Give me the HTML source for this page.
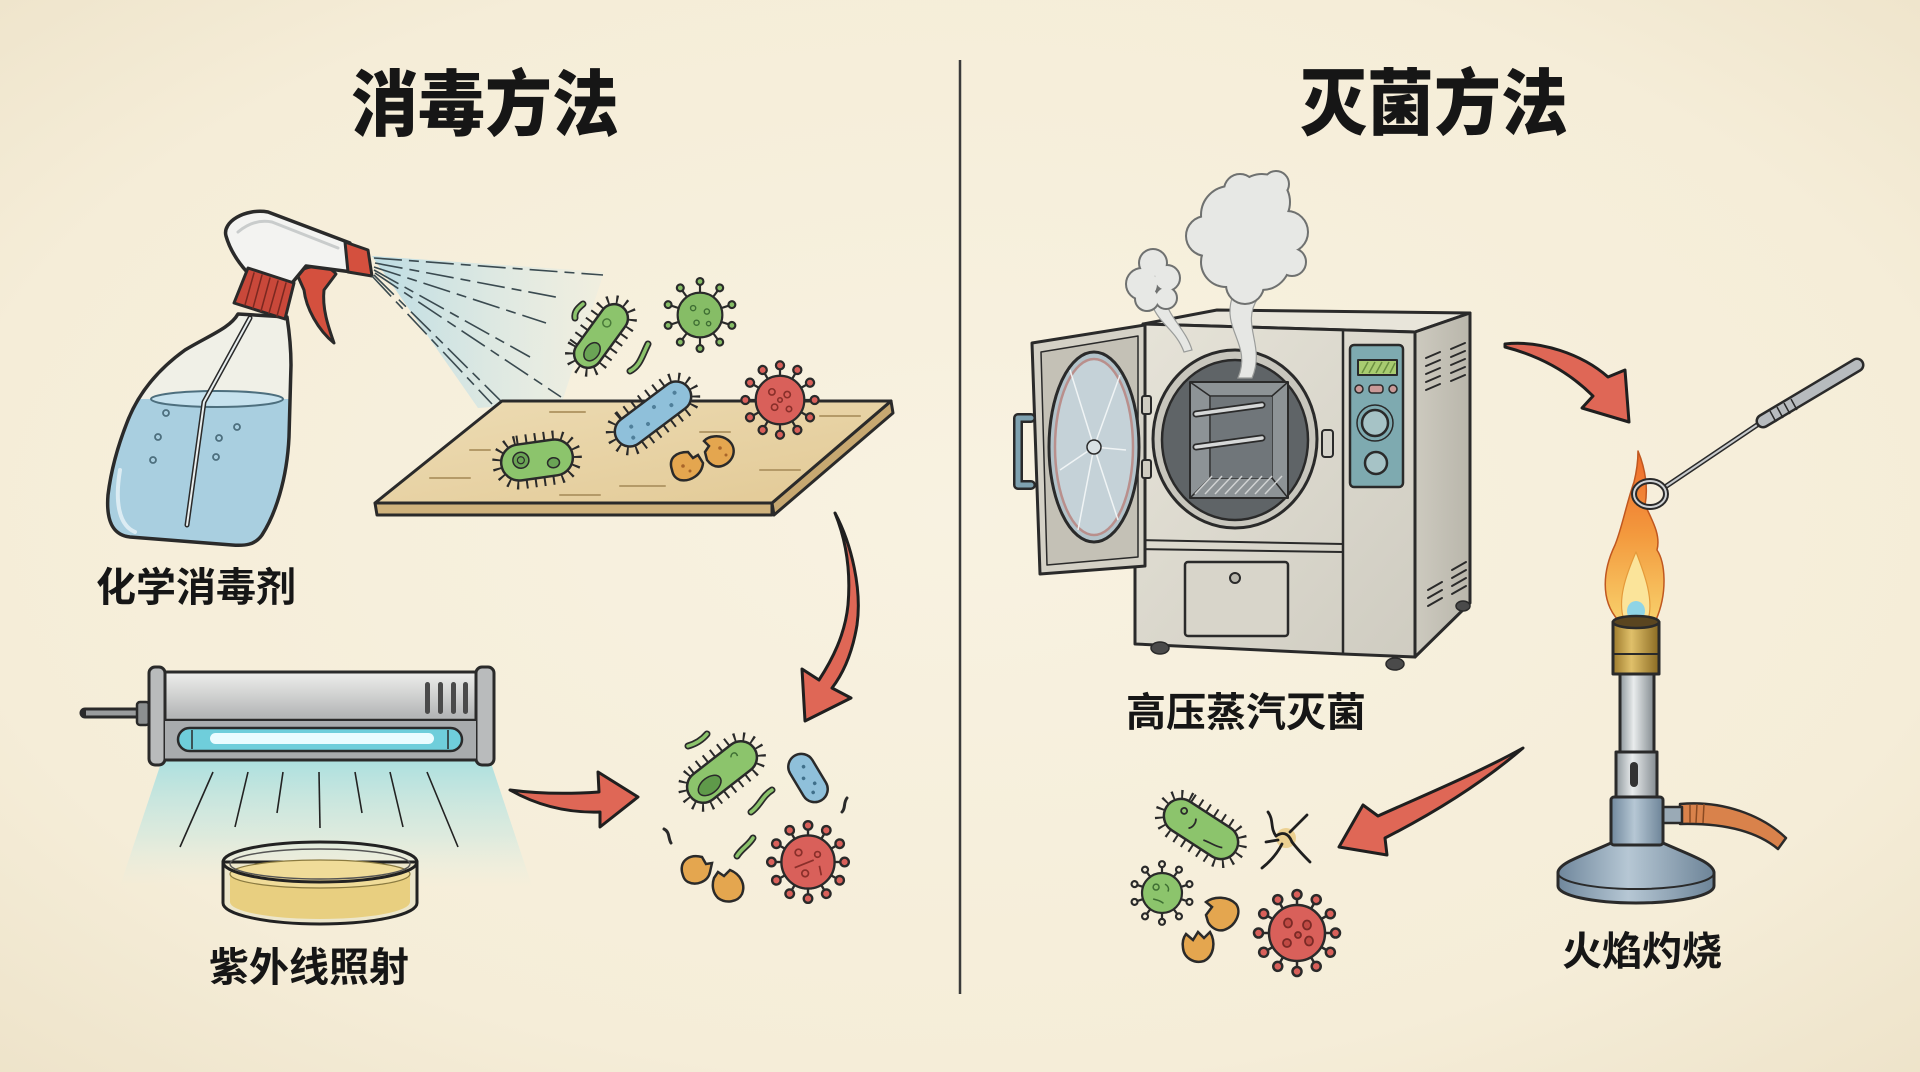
<!DOCTYPE html>
<html><head><meta charset="utf-8"><style>
html,body{margin:0;padding:0;background:#f5eedb;}
svg{display:block}
text{font-family:"Liberation Sans","Noto Sans CJK SC",sans-serif;fill:#161616;}
</style></head><body>
<svg width="1920" height="1072" viewBox="0 0 1920 1072" xmlns="http://www.w3.org/2000/svg" xmlns:xlink="http://www.w3.org/1999/xlink">
<defs>
<radialGradient id="bg" cx="50%" cy="48%" r="75%">
<stop offset="0" stop-color="#f8f2e1"/><stop offset="0.7" stop-color="#f5edd8"/><stop offset="1" stop-color="#ede2c8"/>
</radialGradient>
<linearGradient id="metal" x1="0" y1="0" x2="0" y2="1">
<stop offset="0" stop-color="#eeeeec"/><stop offset="0.25" stop-color="#d2d3d2"/><stop offset="0.5" stop-color="#b4b6b7"/><stop offset="1" stop-color="#c9cacb"/>
</linearGradient>
<linearGradient id="uvcone" x1="0" y1="0" x2="0" y2="1">
<stop offset="0" stop-color="#9fdde0" stop-opacity="0.85"/><stop offset="0.6" stop-color="#bfe6e2" stop-opacity="0.45"/><stop offset="1" stop-color="#d9efe6" stop-opacity="0"/>
</linearGradient>
<linearGradient id="sprayg" x1="0" y1="0" x2="1" y2="0">
<stop offset="0" stop-color="#a9d6e6" stop-opacity="0.75"/><stop offset="1" stop-color="#cfe8ee" stop-opacity="0.15"/>
</linearGradient>
<linearGradient id="board" x1="0" y1="0" x2="1" y2="1">
<stop offset="0" stop-color="#eddcb4"/><stop offset="1" stop-color="#e2c995"/>
</linearGradient>
<linearGradient id="acfront" x1="0" y1="0" x2="1" y2="1">
<stop offset="0" stop-color="#e6e3d8"/><stop offset="1" stop-color="#cfccc1"/>
</linearGradient>
<linearGradient id="acside" x1="0" y1="0" x2="1" y2="0">
<stop offset="0" stop-color="#cdcabf"/><stop offset="1" stop-color="#b9b6ab"/>
</linearGradient>
<linearGradient id="brass" x1="0" y1="0" x2="1" y2="0">
<stop offset="0" stop-color="#9c7a2c"/><stop offset="0.4" stop-color="#e0c06a"/><stop offset="1" stop-color="#8a6a22"/>
</linearGradient>
<linearGradient id="steel" x1="0" y1="0" x2="1" y2="0">
<stop offset="0" stop-color="#8e979c"/><stop offset="0.4" stop-color="#e9eced"/><stop offset="1" stop-color="#838b90"/>
</linearGradient>
<linearGradient id="bluesteel" x1="0" y1="0" x2="1" y2="0">
<stop offset="0" stop-color="#6f879c"/><stop offset="0.45" stop-color="#b6c7d4"/><stop offset="1" stop-color="#6d8498"/>
</linearGradient>
<linearGradient id="flame" x1="0" y1="0" x2="0" y2="1">
<stop offset="0" stop-color="#ee6a2a"/><stop offset="0.5" stop-color="#f39a3e"/><stop offset="1" stop-color="#f8cf6a"/>
</linearGradient>
<clipPath id="bottleclip">
<path d="M238 314 L287 317 C289 330 291 345 291 365 L289 437 C287 480 275 515 262 535 C255 545 245 546 232 545 L130 537 C112 535 106 520 108 495 C111 470 118 445 128 420 C140 390 160 368 185 350 C210 335 230 328 238 314 Z"/>
</clipPath>
<g id="sp12">
<g><line x1="0" y1="-24" x2="0" y2="-35"/><circle cy="-38.5" r="4.5"/></g>
<g transform="rotate(30)"><line x1="0" y1="-24" x2="0" y2="-35"/><circle cy="-38.5" r="4.5"/></g>
<g transform="rotate(60)"><line x1="0" y1="-24" x2="0" y2="-35"/><circle cy="-38.5" r="4.5"/></g>
<g transform="rotate(90)"><line x1="0" y1="-24" x2="0" y2="-35"/><circle cy="-38.5" r="4.5"/></g>
<g transform="rotate(120)"><line x1="0" y1="-24" x2="0" y2="-35"/><circle cy="-38.5" r="4.5"/></g>
<g transform="rotate(150)"><line x1="0" y1="-24" x2="0" y2="-35"/><circle cy="-38.5" r="4.5"/></g>
<g transform="rotate(180)"><line x1="0" y1="-24" x2="0" y2="-35"/><circle cy="-38.5" r="4.5"/></g>
<g transform="rotate(210)"><line x1="0" y1="-24" x2="0" y2="-35"/><circle cy="-38.5" r="4.5"/></g>
<g transform="rotate(240)"><line x1="0" y1="-24" x2="0" y2="-35"/><circle cy="-38.5" r="4.5"/></g>
<g transform="rotate(270)"><line x1="0" y1="-24" x2="0" y2="-35"/><circle cy="-38.5" r="4.5"/></g>
<g transform="rotate(300)"><line x1="0" y1="-24" x2="0" y2="-35"/><circle cy="-38.5" r="4.5"/></g>
<g transform="rotate(330)"><line x1="0" y1="-24" x2="0" y2="-35"/><circle cy="-38.5" r="4.5"/></g>
</g>
<g id="sp10">
<g><line x1="0" y1="-24" x2="0" y2="-36"/><circle cy="-39" r="4"/></g>
<g transform="rotate(36)"><line x1="0" y1="-24" x2="0" y2="-36"/><circle cy="-39" r="4"/></g>
<g transform="rotate(72)"><line x1="0" y1="-24" x2="0" y2="-36"/><circle cy="-39" r="4"/></g>
<g transform="rotate(108)"><line x1="0" y1="-24" x2="0" y2="-36"/><circle cy="-39" r="4"/></g>
<g transform="rotate(144)"><line x1="0" y1="-24" x2="0" y2="-36"/><circle cy="-39" r="4"/></g>
<g transform="rotate(180)"><line x1="0" y1="-24" x2="0" y2="-36"/><circle cy="-39" r="4"/></g>
<g transform="rotate(216)"><line x1="0" y1="-24" x2="0" y2="-36"/><circle cy="-39" r="4"/></g>
<g transform="rotate(252)"><line x1="0" y1="-24" x2="0" y2="-36"/><circle cy="-39" r="4"/></g>
<g transform="rotate(288)"><line x1="0" y1="-24" x2="0" y2="-36"/><circle cy="-39" r="4"/></g>
<g transform="rotate(324)"><line x1="0" y1="-24" x2="0" y2="-36"/><circle cy="-39" r="4"/></g>
</g>
<g id="cloud1">
<circle cx="1230" cy="215" r="28"/><circle cx="1262" cy="202" r="27"/><circle cx="1287" cy="232" r="20"/>
<circle cx="1262" cy="262" r="27"/><circle cx="1226" cy="262" r="24"/><circle cx="1206" cy="236" r="19"/>
<circle cx="1240" cy="190" r="15"/><circle cx="1276" cy="184" r="12"/><circle cx="1292" cy="262" r="13"/>
<circle cx="1245" cy="285" r="18"/>
</g>
<g id="cloud2">
<circle cx="1142" cy="284" r="15"/><circle cx="1153" cy="263" r="13"/><circle cx="1167" cy="278" r="12"/>
<circle cx="1147" cy="299" r="11"/><circle cx="1166" cy="298" r="10"/>
</g>
</defs>

<rect width="1920" height="1072" fill="url(#bg)"/>

<!-- Titles -->
<g transform="translate(485,130) scale(0.93,1)"><text x="0" y="0" font-size="72" font-weight="900" text-anchor="middle">消毒方法</text></g>
<g transform="translate(1434,129) scale(0.93,1)"><text x="0" y="0" font-size="72" font-weight="900" text-anchor="middle">灭菌方法</text></g>

<!-- Divider -->
<line x1="960" y1="60" x2="960" y2="994" stroke="#3a3a3a" stroke-width="2.5"/>

<!-- ============ SPRAY BOTTLE ============ -->
<g stroke-linejoin="round" stroke-linecap="round">
<path d="M238 314 L287 317 C289 330 291 345 291 365 L289 437 C287 480 275 515 262 535 C255 545 245 546 232 545 L130 537 C112 535 106 520 108 495 C111 470 118 445 128 420 C140 390 160 368 185 350 C210 335 230 328 238 314 Z" fill="#eef1ec" fill-opacity="0.7"/>
<g clip-path="url(#bottleclip)">
<rect x="90" y="399" width="220" height="160" fill="#a9cfe0"/>
<ellipse cx="217" cy="399" rx="66" ry="8" fill="#c6e2ee" stroke="#4d6f7e" stroke-width="2"/>
<path d="M120 470 C115 500 118 525 135 532" fill="none" stroke="#ffffff" stroke-width="4" stroke-opacity="0.6"/>
</g>
<path d="M250 318 L204 402 L187 525" fill="none" stroke="#2a2a2a" stroke-width="5"/>
<path d="M250 318 L204 402 L187 525" fill="none" stroke="#e8eeee" stroke-width="2"/>
<g fill="none" stroke="#4d6f7e" stroke-width="1.8">
<circle cx="166" cy="413" r="3"/><circle cx="158" cy="437" r="3"/><circle cx="153" cy="460" r="3"/>
<circle cx="219" cy="438" r="3"/><circle cx="216" cy="457" r="3"/><circle cx="237" cy="427" r="3"/>
</g>
<path d="M238 314 L287 317 C289 330 291 345 291 365 L289 437 C287 480 275 515 262 535 C255 545 245 546 232 545 L130 537 C112 535 106 520 108 495 C111 470 118 445 128 420 C140 390 160 368 185 350 C210 335 230 328 238 314 Z" fill="none" stroke="#2a2a2a" stroke-width="3.5"/>
<path d="M296 272 C312 264 328 264 336 274 L324 290 C322 308 328 326 334 343 C318 330 306 308 304 290 Z" fill="#d4503e" stroke="#2a2a2a" stroke-width="3"/>
<path d="M226 236 C222 222 245 208 268 212 L350 243 L352 272 L306 266 L292 283 L247 272 C238 262 230 250 226 236 Z" fill="#f3f3f1" stroke="#2a2a2a" stroke-width="3.5"/>
<path d="M238 232 C250 222 262 220 272 222 L338 248" fill="none" stroke="#c9cccc" stroke-width="3"/>
<path d="M345 242 L368 250 L372 276 L348 272 Z" fill="#d4503e" stroke="#2a2a2a" stroke-width="3"/>
<path d="M248 268 L294 283 L285 319 L234 303 Z" fill="#c9483a" stroke="#2a2a2a" stroke-width="3"/>
<g stroke="#7a2820" stroke-width="1.5">
<line x1="254" y1="273" x2="245" y2="305"/><line x1="262" y1="275" x2="253" y2="308"/><line x1="270" y1="278" x2="261" y2="311"/><line x1="278" y1="281" x2="269" y2="313"/><line x1="286" y1="283" x2="277" y2="316"/>
</g>
</g>

<!-- spray -->
<path d="M372 256 L604 272 L562 402 L478 408 Z" fill="url(#sprayg)"/>
<g stroke="#3a4a50" stroke-width="1.6" fill="none" stroke-dasharray="28 7 10 7">
<line x1="374" y1="258" x2="603" y2="275"/>
<line x1="375" y1="263" x2="561" y2="298"/>
<line x1="374" y1="267" x2="546" y2="323"/>
<line x1="374" y1="270" x2="530" y2="357"/>
<line x1="375" y1="273" x2="561" y2="397"/>
<line x1="374" y1="275" x2="520" y2="420"/>
<line x1="372" y1="276" x2="492" y2="404"/>
</g>

<!-- board -->
<g stroke="#2a2a2a" stroke-width="3" stroke-linejoin="round">
<path d="M375 503 L772 503 L772 515 L377 515 Z" fill="#cfb27c"/>
<path d="M891 401 L893 413 L774 515 L772 503 Z" fill="#c7a871"/>
<path d="M502 401 L891 401 L772 503 L375 503 Z" fill="url(#board)"/>
</g>
<g stroke="#b49a68" stroke-width="2" stroke-linecap="round">
<line x1="550" y1="412" x2="585" y2="412"/><line x1="820" y1="416" x2="860" y2="416"/><line x1="470" y1="450" x2="490" y2="450"/>
<line x1="430" y1="478" x2="470" y2="478"/><line x1="620" y1="486" x2="665" y2="486"/><line x1="760" y1="470" x2="800" y2="470"/>
<line x1="560" y1="495" x2="600" y2="495"/><line x1="700" y1="432" x2="730" y2="432"/>
</g>

<!-- microbes top-left -->
<g transform="translate(601,336) rotate(-54)">
<rect x="-40" y="-18" width="80" height="36" rx="18" fill="none" stroke="#2a2a2a" stroke-width="10" stroke-dasharray="2 7"/>
<rect x="-36" y="-14" width="72" height="28" rx="14" fill="#8cc46c" stroke="#2a2a2a" stroke-width="2.5"/>
<ellipse cx="-18" cy="2" rx="10" ry="7" fill="#6aa455" stroke="#2a2a2a" stroke-width="1.5"/>
<circle cx="14" cy="-3" r="4" fill="none" stroke="#4a7a3a" stroke-width="1.5"/>
</g>
<g transform="translate(700,315) scale(0.86)">
<use xlink:href="#sp10" fill="#86bd66" stroke="#2a2a2a" stroke-width="2.5"/>
<circle r="26" fill="#86bd66" stroke="#2a2a2a" stroke-width="2.5"/>
<g fill="none" stroke="#3e6e33" stroke-width="1.6"><circle cx="-8" cy="-8" r="3"/><circle cx="8" cy="-4" r="3"/><circle cx="-4" cy="9" r="3"/><circle cx="10" cy="10" r="2.5"/></g>
</g>
<g fill="none" stroke-linecap="round">
<path d="M575 318 C574 312 578 308 583 304" stroke="#2a2a2a" stroke-width="7"/><path d="M575 318 C574 312 578 308 583 304" stroke="#8cc46c" stroke-width="3.5"/>
<path d="M630 371 C640 366 642 356 648 344" stroke="#2a2a2a" stroke-width="7"/><path d="M630 371 C640 366 642 356 648 344" stroke="#8cc46c" stroke-width="3.5"/>
</g>
<g transform="translate(653,414) rotate(-37)">
<rect x="-48" y="-19" width="96" height="38" rx="19" fill="none" stroke="#2a2a2a" stroke-width="10" stroke-dasharray="2 7"/>
<rect x="-44" y="-15" width="88" height="30" rx="15" fill="#8fc0da" stroke="#2a2a2a" stroke-width="2.5"/>
<g fill="#4f7f9a"><circle cx="-25" cy="-3" r="2"/><circle cx="-10" cy="5" r="2"/><circle cx="5" cy="-5" r="2"/><circle cx="20" cy="4" r="2"/><circle cx="30" cy="-4" r="2"/><circle cx="-30" cy="7" r="2"/></g>
</g>
<g transform="translate(780,400) scale(0.9)">
<use xlink:href="#sp12" fill="#d9605a" stroke="#2a2a2a" stroke-width="2.5"/>
<circle r="27" fill="#d9605a" stroke="#2a2a2a" stroke-width="2.5"/>
<g fill="none" stroke="#8a2f2a" stroke-width="1.8"><circle cx="-9" cy="-9" r="3.5"/><circle cx="8" cy="-6" r="3.5"/><circle cx="-6" cy="8" r="3.5"/><circle cx="10" cy="10" r="3"/><circle cx="0" cy="0" r="2.5"/></g>
</g>
<g transform="translate(537,460) rotate(-8)">
<rect x="-40" y="-22" width="80" height="44" rx="22" fill="none" stroke="#2a2a2a" stroke-width="10" stroke-dasharray="2 7"/>
<rect x="-36" y="-18" width="72" height="36" rx="18" fill="#8cc46c" stroke="#2a2a2a" stroke-width="2.5"/>
<circle cx="-16" cy="-2" r="8" fill="#6aa455" stroke="#2a2a2a" stroke-width="1.5"/>
<circle cx="-16" cy="-2" r="3.5" fill="none" stroke="#2a2a2a" stroke-width="1.2"/>
<ellipse cx="16" cy="5" rx="6" ry="5" fill="#6aa455" stroke="#2a2a2a" stroke-width="1.5"/>
</g>
<g stroke="#2a2a2a" stroke-width="2.5">
<path d="M672 470 C668 458 676 452 688 452 L693 458 L698 455 L703 463 C702 475 690 482 680 480 C675 478 673 475 672 470 Z" fill="#e4a64f"/>
<path d="M705 452 L709 446 L704 441 C708 436 720 434 728 440 C738 448 734 462 722 466 C715 468 710 464 707 460 Z" fill="#e4a64f"/>
<g fill="#a8652a" stroke="none"><circle cx="683" cy="466" r="1.8"/><circle cx="690" cy="471" r="1.5"/><circle cx="720" cy="448" r="1.8"/><circle cx="726" cy="455" r="1.5"/></g>
</g>

<!-- arrow board -> lower cluster -->
<path d="M835 513 C852 545 862 590 857 625 C852 655 842 675 832 688 L851 698 L805 721 L802 669 L819 680 C832 660 845 635 848 605 C851 570 846 540 835 513 Z" fill="#df6756" stroke="#1f1f1f" stroke-width="3" stroke-linejoin="round"/>

<text x="196" y="601" font-size="40" font-weight="700" text-anchor="middle">化学消毒剂</text>

<!-- ============ UV LAMP ============ -->
<path d="M162 760 L490 760 L532 886 L120 886 Z" fill="url(#uvcone)"/>
<path d="M85 713 L140 713" stroke="#2a2a2a" stroke-width="11" stroke-linecap="round"/>
<path d="M86 713 L140 713" stroke="#9a9c9d" stroke-width="5"/>
<rect x="137" y="702" width="12" height="23" rx="3" fill="#8c8f90" stroke="#2a2a2a" stroke-width="2.5"/>
<rect x="155" y="672" width="330" height="88" fill="url(#metal)" stroke="#2a2a2a" stroke-width="3"/>
<rect x="149" y="667" width="16" height="98" rx="6" fill="#b9bbbc" stroke="#2a2a2a" stroke-width="3"/>
<rect x="476" y="667" width="18" height="98" rx="6" fill="#b9bbbc" stroke="#2a2a2a" stroke-width="3"/>
<line x1="165" y1="720" x2="476" y2="720" stroke="#2a2a2a" stroke-width="2.5"/>
<rect x="165" y="721" width="311" height="39" fill="#a8abad"/>
<line x1="165" y1="760" x2="476" y2="760" stroke="#2a2a2a" stroke-width="3"/>
<g fill="#4a4a4a"><rect x="425" y="682" width="5" height="32" rx="2.5"/><rect x="438" y="682" width="5" height="32" rx="2.5"/><rect x="451" y="682" width="5" height="32" rx="2.5"/><rect x="463" y="682" width="5" height="32" rx="2.5"/></g>
<rect x="178" y="728" width="284" height="23" rx="11.5" fill="#6fcedb" stroke="#2a2a2a" stroke-width="2.5"/>
<rect x="210" y="733" width="224" height="11" rx="5.5" fill="#eafcff"/>
<line x1="192" y1="730" x2="192" y2="749" stroke="#2a2a2a" stroke-width="1.5"/><line x1="448" y1="730" x2="448" y2="749" stroke="#2a2a2a" stroke-width="1.5"/>
<g stroke="#222" stroke-width="1.6">
<line x1="213" y1="772" x2="180" y2="847"/><line x1="248" y1="772" x2="235" y2="827"/><line x1="283" y1="772" x2="277" y2="813"/>
<line x1="319" y1="772" x2="320" y2="828"/><line x1="355" y1="772" x2="362" y2="813"/><line x1="390" y1="772" x2="403" y2="827"/><line x1="427" y1="772" x2="458" y2="847"/>
</g>
<path d="M223 862 L223 903 A97 21 0 0 0 417 903 L417 862 Z" fill="#ece6cb" stroke="#222" stroke-width="3"/>
<path d="M230 874 L230 902 A90 17 0 0 0 410 902 L410 874 Z" fill="#e8cf80"/>
<ellipse cx="320" cy="874" rx="90" ry="14" fill="#f0dc99" stroke="#8a7a40" stroke-width="1.2"/>
<ellipse cx="320" cy="862" rx="97" ry="20" fill="none" stroke="#222" stroke-width="3"/>
<ellipse cx="320" cy="864" rx="90" ry="15" fill="none" stroke="#555" stroke-width="1.4"/>
<text x="309" y="981" font-size="40" font-weight="700" text-anchor="middle">紫外线照射</text>

<!-- arrow UV -> cluster -->
<path d="M510 790 C540 794 570 794 599 792 L598 772 L638 797 L600 827 L600 812 C570 813 540 807 510 790 Z" fill="#df6756" stroke="#1f1f1f" stroke-width="3" stroke-linejoin="round"/>

<!-- lower-left cluster -->
<g transform="translate(722,772) rotate(-38)">
<rect x="-44" y="-20" width="88" height="40" rx="20" fill="none" stroke="#2a2a2a" stroke-width="10" stroke-dasharray="2 7"/>
<rect x="-40" y="-16" width="80" height="32" rx="16" fill="#8cc46c" stroke="#2a2a2a" stroke-width="2.5"/>
<ellipse cx="-18" cy="3" rx="13" ry="8" fill="#5f9a4a" stroke="#2a2a2a" stroke-width="1.5"/>
<path d="M16 -6 c3 -4 8 -2 6 3" fill="none" stroke="#3e6e33" stroke-width="1.5"/>
</g>
<g transform="translate(808,778) rotate(59)">
<rect x="-26" y="-13" width="52" height="26" rx="13" fill="#8fc0da" stroke="#2a2a2a" stroke-width="2.5"/>
<g fill="#3f6f8a"><circle cx="-12" cy="-2" r="1.8"/><circle cx="-2" cy="4" r="1.8"/><circle cx="8" cy="-3" r="1.8"/><circle cx="15" cy="3" r="1.8"/></g>
</g>
<g transform="translate(808,862) scale(0.95)">
<use xlink:href="#sp12" fill="#d9605a" stroke="#2a2a2a" stroke-width="2.5"/>
<circle r="28" fill="#d9605a" stroke="#2a2a2a" stroke-width="2.5"/>
<g fill="none" stroke="#8a2f2a" stroke-width="1.8"><circle cx="-10" cy="-10" r="3.5"/><circle cx="10" cy="-8" r="3"/><circle cx="-3" cy="12" r="3.5"/><path d="M-14 6 L6 -2"/><path d="M12 4 L14 14"/></g>
</g>
<g stroke="#2a2a2a" stroke-width="2.5">
<path d="M682 872 C680 860 690 854 702 857 L706 864 L712 863 L710 872 C708 882 696 886 688 882 C684 880 683 876 682 872 Z" fill="#e4a64f"/>
<path d="M714 878 L718 872 L724 876 L730 870 C740 874 746 884 742 894 C738 902 726 904 718 898 C712 892 712 884 714 878 Z" fill="#e4a64f"/>
</g>
<g fill="none" stroke-linecap="round">
<path d="M688 746 C695 744 702 740 707 734" stroke="#2a2a2a" stroke-width="7"/><path d="M688 746 C695 744 702 740 707 734" stroke="#8cc46c" stroke-width="3.5"/>
<path d="M751 812 C760 806 762 796 772 790" stroke="#2a2a2a" stroke-width="7"/><path d="M751 812 C760 806 762 796 772 790" stroke="#8cc46c" stroke-width="3.5"/>
<path d="M737 856 C742 848 748 846 753 838" stroke="#2a2a2a" stroke-width="7"/><path d="M737 856 C742 848 748 846 753 838" stroke="#8cc46c" stroke-width="3.5"/>
<path d="M664 829 C670 832 668 838 671 843" stroke="#2a2a2a" stroke-width="3"/>
<path d="M847 798 C843 803 846 808 842 812" stroke="#2a2a2a" stroke-width="3"/>
</g>

<!-- ============ AUTOCLAVE ============ -->
<g stroke="#2a2a2a" stroke-linejoin="round">
<path d="M1143 324 L1217 310 L1470 313 L1415 332 Z" fill="#e8e5da" stroke-width="3"/>
<path d="M1415 332 L1470 313 L1470 603 L1415 657 Z" fill="url(#acside)" stroke-width="3"/>
<path d="M1143 324 L1415 332 L1415 657 L1343 654 L1135 644 L1135 540 L1143 540 Z" fill="url(#acfront)" stroke-width="3"/>
<line x1="1343" y1="331" x2="1343" y2="654" stroke-width="2.5"/>
<path d="M1135 540 L1343 544 M1135 549 L1343 552" fill="none" stroke-width="2"/>
<rect x="1350" y="345" width="53" height="142" rx="4" fill="#7eaab0" stroke-width="2.5"/>
<rect x="1358" y="360" width="39" height="15" fill="#a8cc70" stroke-width="2"/>
<g stroke="#6b8f40" stroke-width="1.5"><line x1="1362" y1="373" x2="1368" y2="362"/><line x1="1369" y1="373" x2="1375" y2="362"/><line x1="1376" y1="373" x2="1382" y2="362"/><line x1="1383" y1="373" x2="1389" y2="362"/><line x1="1390" y1="373" x2="1395" y2="363"/></g>
<circle cx="1359" cy="389" r="4" fill="#c99a98" stroke-width="1.5"/>
<rect x="1369" y="385" width="14" height="8" rx="3" fill="#c99a98" stroke-width="1.5"/>
<circle cx="1393" cy="389" r="4" fill="#c99a98" stroke-width="1.5"/>
<circle cx="1375" cy="423" r="18" fill="none" stroke-width="1.5"/>
<circle cx="1375" cy="423" r="13" fill="#a6c3c6" stroke-width="2.5"/>
<circle cx="1376" cy="463" r="11" fill="#a6c3c6" stroke-width="2.5"/>
<g stroke-width="2" stroke-linecap="round">
<line x1="1426" y1="358" x2="1440" y2="352"/><line x1="1426" y1="366" x2="1440" y2="360"/><line x1="1426" y1="374" x2="1440" y2="368"/><line x1="1426" y1="382" x2="1440" y2="376"/><line x1="1426" y1="390" x2="1440" y2="384"/>
<line x1="1451" y1="349" x2="1465" y2="343"/><line x1="1451" y1="357" x2="1465" y2="351"/><line x1="1451" y1="365" x2="1465" y2="359"/><line x1="1451" y1="373" x2="1465" y2="367"/><line x1="1451" y1="381" x2="1465" y2="375"/>
<line x1="1428" y1="590" x2="1442" y2="582"/><line x1="1428" y1="598" x2="1442" y2="590"/><line x1="1428" y1="606" x2="1442" y2="598"/>
<line x1="1452" y1="570" x2="1466" y2="562"/><line x1="1452" y1="578" x2="1466" y2="570"/><line x1="1452" y1="586" x2="1466" y2="578"/><line x1="1452" y1="594" x2="1466" y2="586"/>
</g>
<ellipse cx="1235" cy="439" rx="82" ry="89" fill="#c8c6bd" stroke-width="3"/>
<ellipse cx="1235" cy="440" rx="73" ry="80" fill="#5f6467" stroke-width="2.5"/>
<rect x="1190" y="382" width="98" height="116" fill="#8d9396" stroke-width="2"/>
<path d="M1190 382 L1210 396 L1272 396 L1288 382 M1210 396 L1210 478 L1190 498 M1272 396 L1272 478 L1288 498 M1210 478 L1272 478" fill="none" stroke-width="1.5"/>
<rect x="1211" y="397" width="61" height="81" fill="#70767a" stroke="none"/>
<line x1="1196" y1="414" x2="1262" y2="405" stroke="#2a2a2a" stroke-width="7" stroke-linecap="round"/>
<line x1="1196" y1="414" x2="1262" y2="405" stroke="#d6d8d8" stroke-width="3.5" stroke-linecap="round"/>
<line x1="1196" y1="447" x2="1262" y2="438" stroke="#2a2a2a" stroke-width="7" stroke-linecap="round"/>
<line x1="1196" y1="447" x2="1262" y2="438" stroke="#d6d8d8" stroke-width="3.5" stroke-linecap="round"/>
<g stroke="#d0d2d2" stroke-width="1.5"><line x1="1195" y1="494" x2="1212" y2="476"/><line x1="1205" y1="494" x2="1222" y2="476"/><line x1="1215" y1="494" x2="1232" y2="476"/><line x1="1225" y1="494" x2="1242" y2="476"/><line x1="1235" y1="494" x2="1252" y2="476"/><line x1="1245" y1="494" x2="1262" y2="476"/><line x1="1255" y1="494" x2="1272" y2="476"/><line x1="1265" y1="494" x2="1282" y2="476"/></g>
<rect x="1322" y="430" width="11" height="27" rx="3" fill="#d5d3ca" stroke-width="2"/>
<rect x="1185" y="562" width="103" height="74" rx="3" fill="#d8d5ca" stroke-width="2.5"/>
<circle cx="1235" cy="578" r="5" fill="#b9b7ad" stroke-width="2"/>
<ellipse cx="1160" cy="648" rx="9" ry="6" fill="#4a4a4a" stroke-width="1.5"/>
<ellipse cx="1395" cy="664" rx="9" ry="6" fill="#4a4a4a" stroke-width="1.5"/>
<ellipse cx="1463" cy="606" rx="7" ry="5" fill="#4a4a4a" stroke-width="1.5"/>
<path d="M1032 343 L1145 325 L1145 566 L1040 574 Z" fill="#d4d1c6" stroke-width="3"/>
<path d="M1041 352 L1138 336 L1138 557 L1047 565 Z" fill="#c4c1b6" stroke-width="1.5"/>
<ellipse cx="1094" cy="447" rx="45" ry="95" fill="#b3c3ca" stroke-width="3"/>
<ellipse cx="1094" cy="447" rx="39" ry="88" fill="#c5d2d8" stroke="#b98f8c" stroke-width="2.5"/>
<g stroke="#f4f7f8" stroke-width="1.5" stroke-opacity="0.9"><line x1="1094" y1="447" x2="1070" y2="370"/><line x1="1094" y1="447" x2="1120" y2="375"/><line x1="1094" y1="447" x2="1060" y2="470"/><line x1="1094" y1="447" x2="1126" y2="450"/><line x1="1094" y1="447" x2="1078" y2="530"/><line x1="1094" y1="447" x2="1118" y2="520"/></g>
<circle cx="1094" cy="447" r="7" fill="#d9e1e4" stroke-width="1.5"/>
<rect x="1142" y="396" width="9" height="18" rx="2" fill="#cfccc1" stroke-width="2"/>
<rect x="1142" y="460" width="9" height="18" rx="2" fill="#cfccc1" stroke-width="2"/>
<path d="M1031 418 L1018 418 L1018 485 L1031 485" fill="none" stroke="#2a2a2a" stroke-width="10" stroke-linecap="round"/>
<path d="M1031 418 L1018 418 L1018 485 L1031 485" fill="none" stroke="#7fa2b0" stroke-width="5" stroke-linecap="round"/>
</g>
<!-- steam -->
<path d="M1232 298 C1222 330 1252 345 1238 378 L1252 378 C1266 345 1240 325 1258 298 Z" fill="#e6e7e4" stroke="#9a9c9a" stroke-width="1.2"/>
<path d="M1152 305 C1160 325 1176 330 1184 352 L1192 350 C1186 330 1170 318 1166 302 Z" fill="#e6e7e4" stroke="#9a9c9a" stroke-width="1.2"/>
<use xlink:href="#cloud1" fill="#e2e3e0" stroke="#6f7170" stroke-width="4"/>
<use xlink:href="#cloud1" fill="#e7e8e5" stroke="none"/>
<ellipse cx="1248" cy="235" rx="32" ry="34" fill="#e7e8e5"/>
<use xlink:href="#cloud2" fill="#e2e3e0" stroke="#6f7170" stroke-width="4"/>
<use xlink:href="#cloud2" fill="#e7e8e5" stroke="none"/>

<text x="1246" y="726" font-size="40" font-weight="700" text-anchor="middle">高压蒸汽灭菌</text>

<!-- arrow autoclave -> burner -->
<path d="M1505 344 C1540 340 1582 354 1608 377 L1625 370 L1629 422 L1582 408 L1593 396 C1570 373 1540 356 1505 347 Z" fill="#df6756" stroke="#1f1f1f" stroke-width="3" stroke-linejoin="round"/>

<!-- ============ BUNSEN ============ -->
<g stroke="#2a2a2a" stroke-linejoin="round">
<path d="M1680 804 C1722 800 1762 815 1786 838 L1778 849 C1755 830 1720 823 1680 824 Z" fill="#d9824b" stroke-width="2.5"/>
<g stroke="#8a4a22" stroke-width="1.5"><line x1="1690" y1="805" x2="1690" y2="823"/><line x1="1697" y1="804" x2="1696" y2="823"/><line x1="1704" y1="804" x2="1703" y2="823"/></g>
<rect x="1660" y="807" width="22" height="16" fill="#9aaab6" stroke-width="2.5"/>
<path d="M1611 843 L1663 843 C1690 855 1712 862 1714 872 L1714 886 A78 17 0 0 1 1558 886 L1558 872 C1560 862 1585 855 1611 843 Z" fill="url(#bluesteel)" stroke-width="3"/>
<path d="M1558 873 A78 16 0 0 0 1714 873" fill="none" stroke-width="2"/>
<rect x="1611" y="797" width="52" height="48" rx="3" fill="url(#bluesteel)" stroke-width="3"/>
<rect x="1616" y="752" width="41" height="45" fill="url(#steel)" stroke-width="3"/>
<rect x="1630" y="762" width="8" height="25" rx="4" fill="#333" stroke="none"/>
<rect x="1620" y="674" width="34" height="78" fill="url(#steel)" stroke-width="3"/>
<path d="M1618 620 C1600 600 1603 570 1615 545 C1622 528 1626 505 1634 482 C1637 470 1638 460 1638 451 C1646 470 1648 490 1645 505 C1652 520 1661 535 1657 550 C1665 562 1668 592 1656 620 Z" fill="url(#flame)" stroke="#c0571f" stroke-width="1.5"/>
<path d="M1624 620 C1617 600 1626 575 1636 552 C1645 575 1654 600 1648 620 Z" fill="#fbe49a" stroke="#e59a3a" stroke-width="1.2"/>
<ellipse cx="1636" cy="611" rx="9" ry="10" fill="#8fd4e6" stroke="none"/>
<rect x="1613" y="622" width="46" height="52" fill="url(#brass)" stroke-width="3"/>
<line x1="1613" y1="654" x2="1659" y2="654" stroke-width="2"/>
<ellipse cx="1636" cy="622" rx="23" ry="6" fill="#5a4520" stroke-width="2.5"/>
</g>
<line x1="1763" y1="421" x2="1665" y2="487" stroke="#2a2a2a" stroke-width="5" stroke-linecap="round"/>
<line x1="1763" y1="421" x2="1665" y2="487" stroke="#c8cbcd" stroke-width="2" stroke-linecap="round"/>
<ellipse cx="1650" cy="494" rx="16" ry="13" fill="none" stroke="#2a2a2a" stroke-width="6"/>
<ellipse cx="1650" cy="494" rx="16" ry="13" fill="none" stroke="#d0d3d5" stroke-width="2"/>
<line x1="1857" y1="365" x2="1763" y2="421" stroke="#2a2a2a" stroke-width="15" stroke-linecap="round"/>
<line x1="1857" y1="365" x2="1763" y2="421" stroke="#b7bbbe" stroke-width="10" stroke-linecap="round"/>
<g stroke="#2a2a2a" stroke-width="1.5"><line x1="1770" y1="411" x2="1776" y2="422"/><line x1="1777" y1="407" x2="1783" y2="418"/><line x1="1784" y1="403" x2="1790" y2="414"/><line x1="1791" y1="399" x2="1797" y2="410"/></g>

<text x="1642" y="965" font-size="40" font-weight="700" text-anchor="middle">火焰灼烧</text>

<!-- arrow burner -> right cluster -->
<path d="M1523 748 C1480 772 1420 797 1378 816 L1363 805 L1339 847 L1387 855 L1385 838 C1430 815 1480 785 1523 748 Z" fill="#df6756" stroke="#1f1f1f" stroke-width="3" stroke-linejoin="round"/>

<!-- right cluster -->
<g transform="translate(1201,829) rotate(33)">
<rect x="-45" y="-21" width="90" height="42" rx="21" fill="none" stroke="#2a2a2a" stroke-width="10" stroke-dasharray="2 7"/>
<rect x="-41" y="-17" width="82" height="34" rx="17" fill="#8cc46c" stroke="#2a2a2a" stroke-width="2.5"/>
<g fill="none" stroke="#2a2a2a" stroke-width="1.8"><circle cx="-24" cy="-6" r="3"/><path d="M-10 -6 c3 4 2 10 -1 12"/><path d="M8 8 c8 -2 14 -1 20 -4"/></g>
</g>
<circle cx="1286" cy="838" r="10" fill="#e8c77a" opacity="0.75"/>
<g fill="none" stroke="#1f1f1f" stroke-width="2.8" stroke-linecap="round">
<path d="M1276 836 C1270 828 1274 820 1268 812"/><path d="M1290 832 C1296 826 1300 822 1307 815"/><path d="M1282 844 C1278 852 1272 860 1262 868"/><path d="M1292 842 C1298 850 1304 856 1310 862"/><path d="M1276 836 C1282 832 1288 832 1292 842"/><path d="M1266 842 L1278 840"/>
</g>
<g transform="translate(1162,893) scale(0.74)">
<use xlink:href="#sp10" fill="none" stroke="#2a2a2a" stroke-width="3"/>
<circle r="27" fill="#8cc46c" stroke="#2a2a2a" stroke-width="3"/>
<g fill="none" stroke="#3e6e33" stroke-width="2"><circle cx="-8" cy="-8" r="4"/><path d="M4 -12 c4 2 6 6 4 10"/><path d="M-12 8 c6 2 10 2 14 6"/></g>
</g>
<g stroke="#2a2a2a" stroke-width="2.5">
<path d="M1206 915 L1212 907 L1206 902 C1214 896 1228 896 1236 904 C1242 912 1236 926 1224 930 C1216 932 1210 926 1208 922 Z" fill="#e4a64f"/>
<path d="M1186 934 L1193 940 L1198 932 L1204 938 L1210 932 C1216 942 1214 956 1204 961 C1194 964 1184 958 1183 948 C1182 942 1183 938 1186 934 Z" fill="#e4a64f"/>
</g>
<g transform="translate(1297,933)">
<use xlink:href="#sp12" fill="#d9605a" stroke="#2a2a2a" stroke-width="2.5"/>
<circle r="28" fill="#d9605a" stroke="#2a2a2a" stroke-width="2.5"/>
<g fill="#c04a44" stroke="#7a2a26" stroke-width="1.8"><ellipse cx="-9" cy="-10" rx="4" ry="4.5"/><ellipse cx="10" cy="-8" rx="4" ry="4.5"/><ellipse cx="12" cy="8" rx="4" ry="4.5"/><ellipse cx="-10" cy="10" rx="4" ry="4"/><ellipse cx="1" cy="2" rx="3" ry="3"/></g>
</g>
</svg>
</body></html>
